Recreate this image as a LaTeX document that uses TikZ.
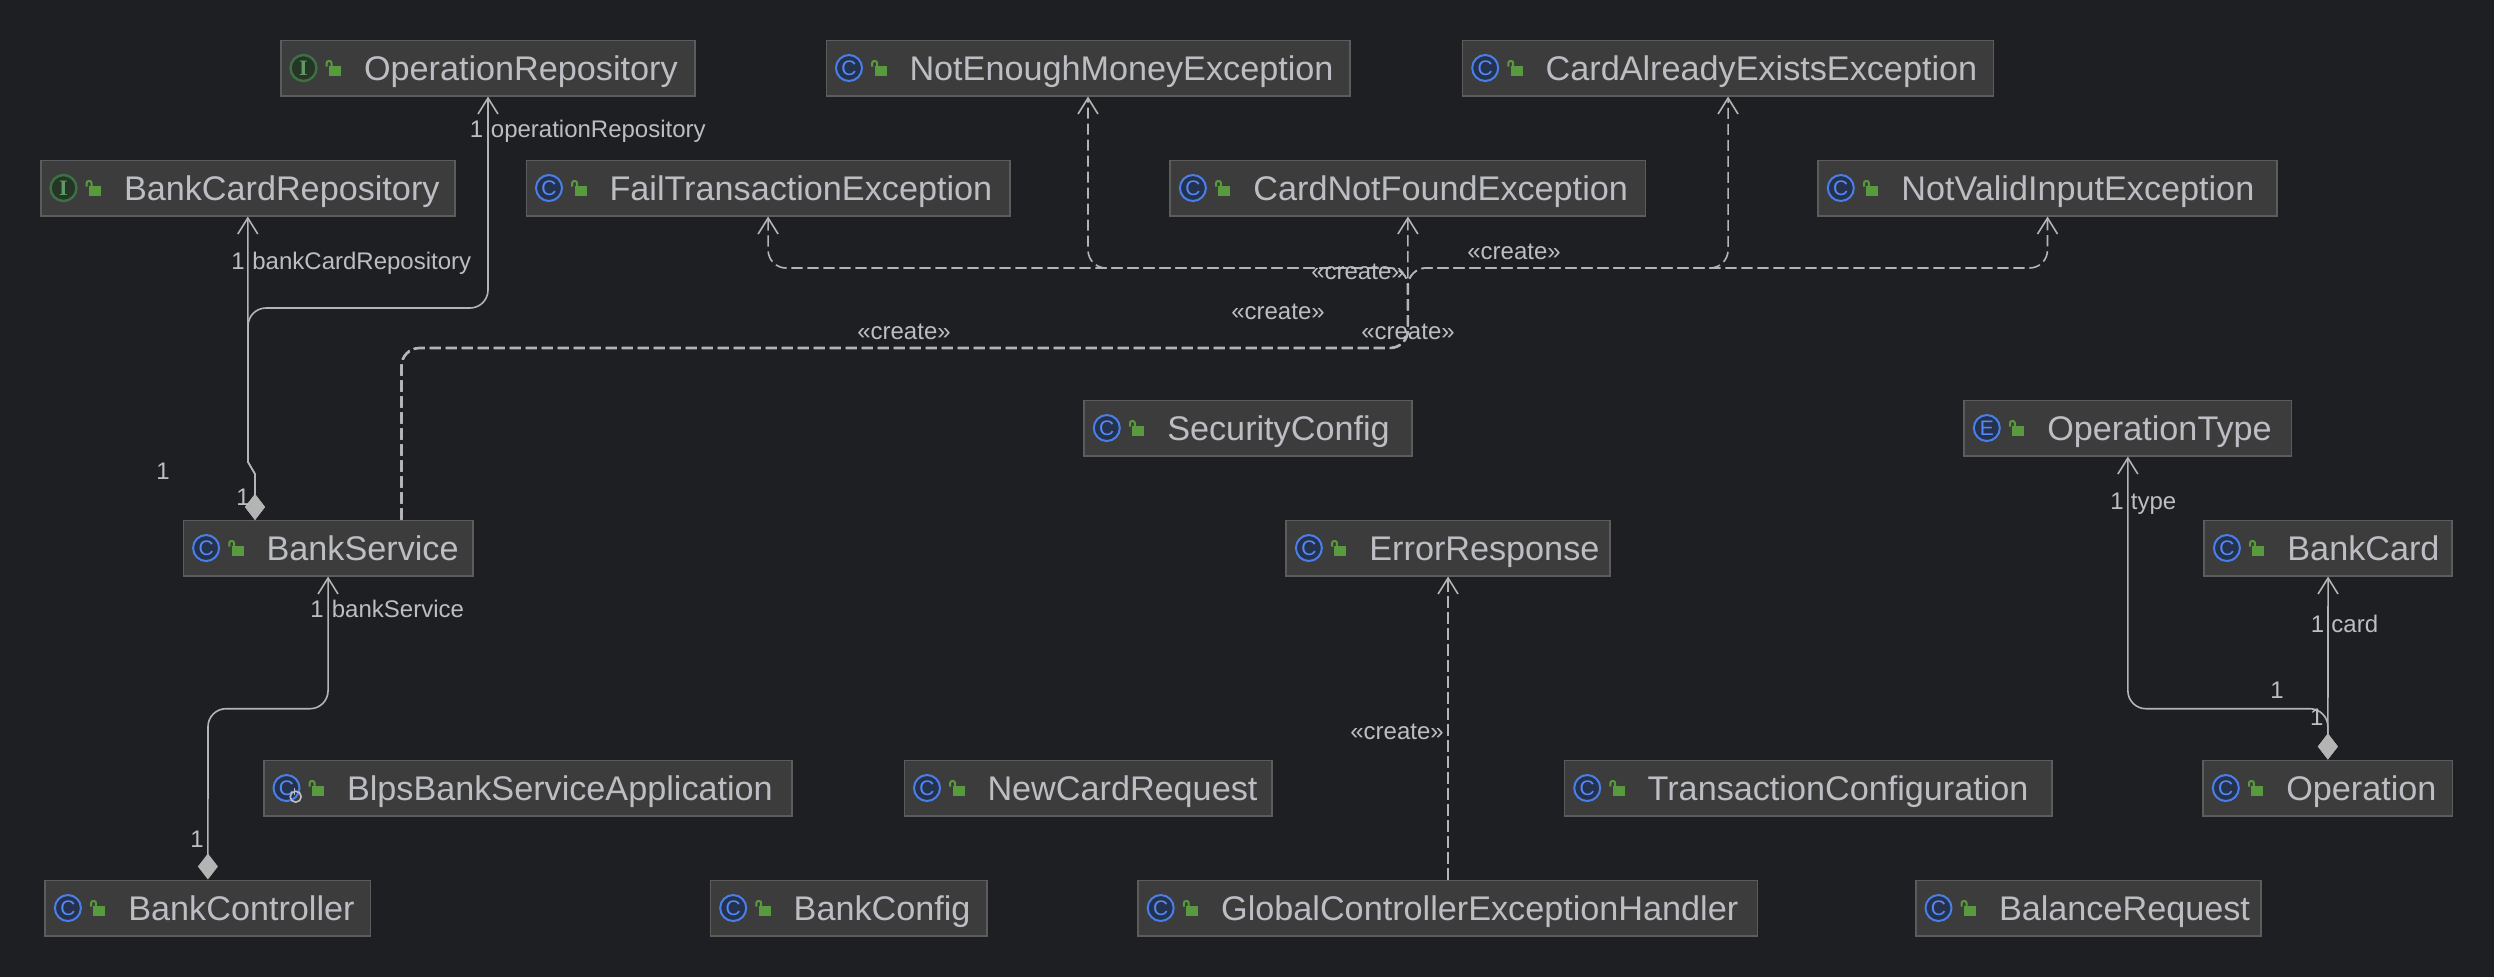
\documentclass[tikz,border=0pt]{standalone}
\usepackage{fontspec}
\setmainfont{Liberation Sans}
\newfontfamily\iconserif{Liberation Serif}
\usetikzlibrary{arrows.meta}

\definecolor{canvas}{HTML}{1E1F22}
\definecolor{boxfill}{HTML}{3C3C3C}
\definecolor{boxedge}{HTML}{5C5C5C}
\definecolor{nametext}{HTML}{BCBEC4}
\definecolor{linkline}{HTML}{B4B4B4}
\definecolor{lockgreen}{HTML}{5A9A3F}
\definecolor{classrim}{HTML}{4A7EE8}
\definecolor{classfill}{HTML}{25324D}
\definecolor{classmark}{HTML}{548AF7}
\definecolor{ifacerim}{HTML}{3E7046}
\definecolor{ifacefill}{HTML}{253627}
\definecolor{ifacemark}{HTML}{5F9A66}

\tikzset{
  classbox/.style={draw=boxedge, fill=boxfill, line width=0.8pt, anchor=west, inner xsep=0pt,
    inner ysep=0pt, minimum height=27.7pt, align=left, text=nametext, text height=12.4pt,
    text depth=0pt, font=\fontsize{17.1pt}{20pt}\selectfont},
  classicon/.style={circle, draw=classrim, fill=classfill, text=classmark, line width=1pt,
    outer sep=0pt, minimum size=13pt, inner sep=0pt, font=\fontsize{10.5pt}{10.5pt}\selectfont},
  ifaceicon/.style={circle, draw=ifacerim, fill=ifacefill, text=ifacemark, line width=1.2pt,
    outer sep=0pt, minimum size=13pt, inner sep=0pt, font=\iconserif\bfseries\fontsize{11pt}{11pt}\selectfont},
  owner/.style={{Diamond[length=13pt,width=10pt]}-{Straight Barb[length=8pt,width=10pt]}, draw=linkline,
    line width=0.8pt, rounded corners=9pt},
  creates/.style={-{Straight Barb[length=8pt,width=10pt]}, draw=linkline, line width=0.8pt,
    dash pattern=on 5.6pt off 2.4pt, rounded corners=9pt},
  sharedrun/.style={draw=linkline, line width=1.3pt, dash pattern=on 5.6pt off 2.4pt, rounded corners=9pt},
  linktext/.style={inner sep=0pt, text=nametext, text height=9pt, text depth=0pt,
    font=\fontsize{12pt}{14pt}\selectfont},
}

% name, left, right, y, icon style, letter, text
\newcommand{\classnode}[7]{
  \pgfmathsetlengthmacro{\boxw}{(#3-#2)*0.5pt-0.8pt}
  \node[classbox, text width=\boxw] (#1) at (#2,#4) {\hspace*{41.6pt}#7};
  \node[#5] (#1icon) at ({#2+23.5},#4) {#6};
  \fill[lockgreen, shift={(#2,#4)}] (49,-2) rectangle (61,7.7);
  \draw[lockgreen, line width=1pt, rounded corners=1pt, shift={(#2,#4)}]
    (46.7,-1.5) -- (46.7,-7) -- (51.5,-7) -- (51.5,-2);
}

\begin{document}
\begin{tikzpicture}[x=0.5pt, y=-0.5pt]
  \useasboundingbox (0,0) rectangle (2494,976);
  \fill[canvas] (-5,-5) rectangle (2499,981);

  % top rows
  \classnode{oprepo}{280}{696}{68}{ifaceicon}{I}{OperationRepository}
  \classnode{notenough}{825.5}{1350.5}{68}{classicon}{C}{NotEnoughMoneyException}
  \classnode{cardexists}{1461.7}{1994.4}{68}{classicon}{C}{CardAlreadyExistsException}
  \classnode{cardrepo}{40}{455.6}{188}{ifaceicon}{I}{BankCardRepository}
  \classnode{failtx}{525.5}{1010.7}{188}{classicon}{C}{FailTransactionException}
  \classnode{cardnotfound}{1169.4}{1646.4}{188}{classicon}{C}{CardNotFoundException}
  \classnode{notvalid}{1817.3}{2277.7}{188}{classicon}{C}{NotValidInputException}

  % middle rows
  \classnode{security}{1083.3}{1412.8}{428}{classicon}{C}{SecurityConfig}
  \classnode{optype}{1963.3}{2292.4}{428}{classicon}{E}{OperationType}
  \classnode{bankservice}{182.6}{473.5}{548}{classicon}{C}{BankService}
  \classnode{errorresp}{1285.4}{1610.7}{548}{classicon}{C}{ErrorResponse}
  \classnode{bankcard}{2203.4}{2452.7}{548}{classicon}{C}{BankCard}

  % bottom rows
  \classnode{blpsapp}{263}{793}{788}{classicon}{C}{BlpsBankServiceApplication}
  \classnode{newcard}{903.5}{1272.7}{788}{classicon}{C}{NewCardRequest}
  \classnode{txconfig}{1563.7}{2052.6}{788}{classicon}{C}{TransactionConfiguration}
  \classnode{operation}{2202.3}{2453.4}{788}{classicon}{C}{Operation}
  \classnode{controller}{44.4}{371.4}{908}{classicon}{C}{BankController}
  \classnode{bankconfig}{709.7}{987.5}{908}{classicon}{C}{BankConfig}
  \classnode{handler}{1137.2}{1758.3}{908}{classicon}{C}{GlobalControllerExceptionHandler}
  \classnode{balance}{1915}{2261.7}{908}{classicon}{C}{BalanceRequest}

  % run mark on the application class
  \draw[nametext, line width=0.8pt] (blpsapp.west) ++(32.7,8.7) circle (5.5);
  \draw[nametext, line width=0.7pt] (blpsapp.west) ++(31.5,0) -- ++(0,7);

  % routes
  \coordinate (ownerdrop) at (255,520);
  \coordinate (ownerkink) at (255,474);
  \coordinate (ownerside) at (248,462);
  \coordinate (oprepoturn) at (248,308);
  \coordinate (ctrlturn) at (208,708.7);
  \coordinate (typeturn) at (2128,708.7);
  \coordinate (depout) at (401.5,348);
  \coordinate (depup) at (cardnotfound.south |- depout);
  \coordinate (fork) at (cardnotfound.south |- 0,268);
  \coordinate (forkfoot) at (cardnotfound.south |- 0,284);

  \draw[owner, rounded corners=0pt] (ownerdrop) -- (ownerkink) -- (ownerside) -- (ownerside -| cardrepo.south) -- (cardrepo.south);
  \draw[owner] (ownerdrop) [rounded corners=0pt] -- (ownerkink) -- (ownerside) [rounded corners=9pt]
    -- (oprepoturn) -- (oprepoturn -| oprepo.south) -- (oprepo.south);
  \draw[owner] (controller.north) -- (ctrlturn) -- (ctrlturn -| bankservice.south) -- (bankservice.south);
  \draw[owner] (operation.north) -- (bankcard.south);
  \draw[owner] (operation.north) -- (operation.north |- typeturn) -- (typeturn -| optype.south) -- (optype.south);

  \draw[creates] (depout |- bankservice.north) -- (depout) -- (depup) -- (fork) -- (fork -| failtx.south) -- (failtx.south);
  \draw[creates] (depout |- bankservice.north) -- (depout) -- (depup) -- (fork) -- (fork -| notenough.south) -- (notenough.south);
  \draw[creates] (depout |- bankservice.north) -- (depout) -- (depup) -- (cardnotfound.south);
  \draw[creates] (depout |- bankservice.north) -- (depout) -- (depup) -- (fork) -- (fork -| cardexists.south) -- (cardexists.south);
  \draw[creates] (depout |- bankservice.north) -- (depout) -- (depup) -- (fork) -- (fork -| notvalid.south) -- (notvalid.south);
  \draw[sharedrun] (depout |- bankservice.north) -- (depout) -- (depup) -- (forkfoot);
  \draw[creates] (handler.north -| errorresp.south) -- (errorresp.south);

  % link labels
  \node[linktext] (oprepocount) at (476.5,128) {1};
  \node[linktext, anchor=west] (oprepofield) at (490.5,128) {operationRepository};
  \node[linktext] (cardrepocount) at (238,260) {1};
  \node[linktext, anchor=west] (cardrepofield) at (252,260) {bankCardRepository};
  \node[linktext] (ownerleft) at (163,470) {1};
  \node[linktext] (ownernear) at (243,496.4) {1};
  \node[linktext] (servicecount) at (317,608) {1};
  \node[linktext, anchor=west] (servicefield) at (331.5,608) {bankService};
  \node[linktext] (ctrlcount) at (197,838) {1};
  \node[linktext] (typecount) at (2117,500) {1};
  \node[linktext, anchor=west] (typefield) at (2130.5,500) {type};
  \node[linktext] (cardcount) at (2317.5,623) {1};
  \node[linktext, anchor=west] (cardfield) at (2331,623) {card};
  \node[linktext] (opupper) at (2277,689.3) {1};
  \node[linktext] (oplower) at (2316.7,716.7) {1};

  \node[linktext] (createa) at (904,330.5) {«create»};
  \node[linktext] (createb) at (1278,310.5) {«create»};
  \node[linktext] (createc) at (1358,270.7) {«create»};
  \node[linktext] (created) at (1408,330.7) {«create»};
  \node[linktext] (createe) at (1514,250.5) {«create»};
  \node[linktext] (createf) at (1397,730.5) {«create»};
\end{tikzpicture}
\end{document}
